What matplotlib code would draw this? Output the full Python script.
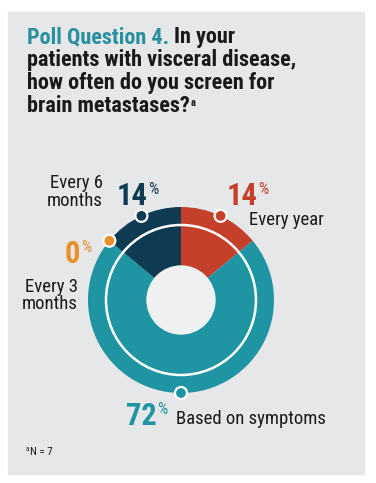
import matplotlib
matplotlib.use('Agg')
import matplotlib.pyplot as plt
from matplotlib.patches import Circle, Rectangle
import numpy as np

plt.rcParams['font.family'] = ['Roboto Condensed', 'Barlow Condensed', 'Archivo Narrow',
                               'PT Sans Narrow', 'Liberation Sans', 'DejaVu Sans']

# data (clockwise from 12 o'clock)
categories = ['Every year', 'Based on symptoms', 'Every 3 months', 'Every 6 months']
values = [14, 72, 0, 14]
colors = ['#C4402A', '#1F94A2', '#E8902A', '#0E3A52']

W, H = 376, 483
def Y(py):
    return H - py

fig = plt.figure(figsize=(W / 100, H / 100), dpi=100)
ax = fig.add_axes([0, 0, 1, 1])
renderer = fig.canvas.get_renderer()

# grey panel
ax.add_patch(Rectangle((8, Y(474)), 356, 462, color='#E6E7E9', zorder=0))

# donut
cx, cy, R, r_hole = 181, Y(300), 93, 34
wedges, _ = ax.pie(values, colors=colors, startangle=90, counterclock=False,
                   radius=R, center=(cx, cy),
                   wedgeprops=dict(width=R - r_hole, linewidth=0))
ax.add_patch(Circle((cx, cy), 75, fill=False, edgecolor='white', lw=1.8, zorder=3))
ax.add_patch(Circle((cx, cy), r_hole, color='#EFF0F2', zorder=3))

# dots on the outer edge at each slice's middle
for w, c in zip(wedges, colors):
    a = np.deg2rad((w.theta1 + w.theta2) / 2)
    ax.add_patch(Circle((cx + R * np.cos(a), cy + R * np.sin(a)), 6,
                        facecolor=c, edgecolor='white', lw=1.6, zorder=5))

ax.set_xlim(0, W)
ax.set_ylim(0, H)
ax.axis('off')

def num_label(x, y, num, color):
    t = ax.text(x, Y(y), num, fontsize=22, fontweight='bold', color=color, va='baseline')
    bb = t.get_window_extent(renderer)
    ax.text(bb.x1 + 0.5, Y(y) + 11, '%', fontsize=11.5, color=color, va='baseline')

# title
teal = '#2A8F9E'
ink = '#1A1A1A'
fs_t = 16
t1 = ax.text(27, Y(43), 'Poll Question 4.', fontsize=fs_t, fontweight='bold',
             color=teal, va='baseline')
bb = t1.get_window_extent(renderer)
ax.text(bb.x1 + 5, Y(43), 'In your', fontsize=fs_t, fontweight='bold',
        color=ink, va='baseline')
ax.text(27, Y(66), 'patients with visceral disease,', fontsize=fs_t,
        fontweight='bold', color=ink, va='baseline')
ax.text(27, Y(89), 'how often do you screen for', fontsize=fs_t,
        fontweight='bold', color=ink, va='baseline')
t4 = ax.text(27, Y(112), 'brain metastases?', fontsize=fs_t,
             fontweight='bold', color=ink, va='baseline')
bb = t4.get_window_extent(renderer)
ax.text(bb.x1 + 1, Y(112) + 6, 'a', fontsize=7.5, fontweight='bold',
        color=ink, va='baseline')

# slice labels
fs_l = 13.5
num_label(117, 205, '14', colors[3])
ax.text(103, Y(188), 'Every 6', fontsize=fs_l, ha='right', va='baseline', color=ink)
ax.text(103, Y(206), 'months', fontsize=fs_l, ha='right', va='baseline', color=ink)

num_label(227, 205, '14', colors[0])
ax.text(249, Y(225), 'Every year', fontsize=fs_l, va='baseline', color=ink)

num_label(65, 263, '0', colors[2])
ax.text(78, Y(292), 'Every 3', fontsize=fs_l, ha='right', va='baseline', color=ink)
ax.text(78, Y(309), 'months', fontsize=fs_l, ha='right', va='baseline', color=ink)

num_label(126, 425, '72', colors[1])
ax.text(176, Y(424), 'Based on symptoms', fontsize=fs_l, va='baseline', color=ink)

# footnote
ax.text(26, Y(451), 'a', fontsize=5, va='baseline', color=ink)
ax.text(30, Y(455), 'N = 7', fontsize=8, va='baseline', color=ink)

fig.savefig('out.png', dpi=100, facecolor='white')
